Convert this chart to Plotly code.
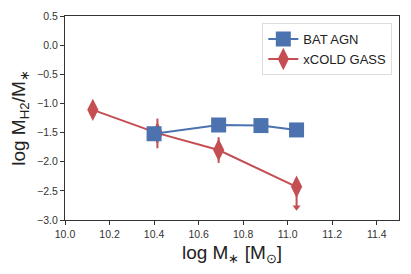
import plotly.graph_objects as go

# Data
bat_x = [10.40, 10.69, 10.88, 11.04]
bat_y = [-1.52, -1.37, -1.38, -1.455]

xcg_x = [10.125, 10.415, 10.69, 11.04]
xcg_y = [-1.11, -1.51, -1.80, -2.43]
xcg_err_plus = [0.0, 0.25, 0.22, 0.0]
xcg_err_minus = [0.0, 0.26, 0.22, 0.35]
xcg_uplim = [False, False, False, True]

x_ticks = [10.0, 10.2, 10.4, 10.6, 10.8, 11.0, 11.2, 11.4]
y_ticks = [0.5, 0.0, -0.5, -1.0, -1.5, -2.0, -2.5, -3.0]

blue = "#4C72B0"
red = "#C44E52"
font_family = "Liberation Sans, Arial, sans-serif"

fig = go.Figure()

fig.add_trace(go.Scatter(
    x=xcg_x, y=xcg_y, mode="lines+markers", name="xCOLD GASS",
    line=dict(color=red, width=2),
    marker=dict(symbol="diamond-tall", size=16, color=red),
    error_y=dict(type="data", symmetric=False, array=xcg_err_plus,
                 arrayminus=xcg_err_minus, color=red, thickness=2, width=0),
))

# upper-limit arrowheads
ul_x = [x for x, u in zip(xcg_x, xcg_uplim) if u]
ul_y = [y - m for y, m, u in zip(xcg_y, xcg_err_minus, xcg_uplim) if u]
fig.add_trace(go.Scatter(
    x=ul_x, y=ul_y, mode="markers", showlegend=False,
    marker=dict(symbol="triangle-down", size=7, color=red),
    hoverinfo="skip",
))

fig.add_trace(go.Scatter(
    x=bat_x, y=bat_y, mode="lines+markers", name="BAT AGN",
    line=dict(color=blue, width=2),
    marker=dict(symbol="square", size=15, color=blue),
))

axis_common = dict(
    showline=True, linecolor="#333333", linewidth=1.3, mirror=True,
    ticks="outside", ticklen=4, tickcolor="#333333", tickwidth=1,
    showgrid=False, zeroline=False, automargin=False,
    tickfont=dict(size=10.5, color="#333333", family=font_family),
)

fig.update_layout(
    width=411, height=274,
    margin=dict(l=65, r=12, t=16, b=54),
    plot_bgcolor="white", paper_bgcolor="white",
    font=dict(family=font_family, color="#222222"),
    xaxis=dict(range=[10.0, 11.5], tickvals=x_ticks,
               ticktext=[f"{v:.1f}" for v in x_ticks],
               title=dict(text="log M<sub>∗</sub> [M<sub>⊙</sub>]",
                          font=dict(size=19, color="#222222"), standoff=6),
               **axis_common),
    yaxis=dict(range=[-3.0, 0.5], tickvals=y_ticks,
               ticktext=[f"{v:.1f}".replace("-", "−") for v in y_ticks],
               title=dict(text="log M<sub>H2</sub>/M<sub>∗</sub>",
                          font=dict(size=19, color="#222222"), standoff=6),
               **axis_common),
    legend=dict(x=0.98, y=0.965, xanchor="right", yanchor="top",
                bgcolor="white", bordercolor="#dddddd", borderwidth=1,
                font=dict(size=13, color="#222222"),
                traceorder="reversed", itemwidth=30,
                tracegroupgap=0),
    showlegend=True,
)

fig.write_html("out.html", config={"displayModeBar": False},
               post_script="document.body.style.margin='0';")
